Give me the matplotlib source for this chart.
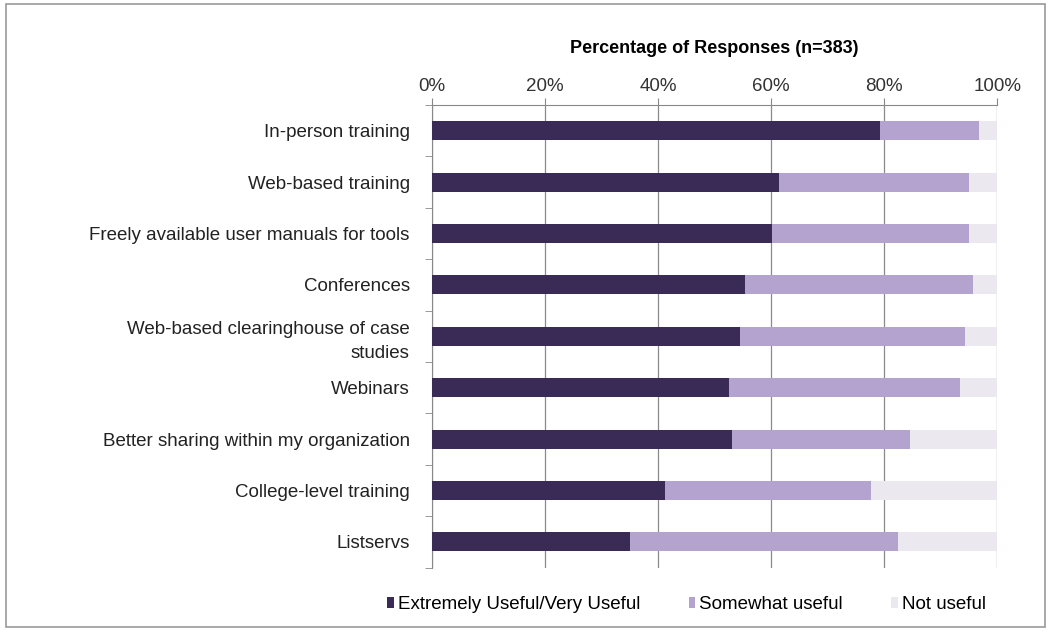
import matplotlib.pyplot as plt
import numpy as np
from matplotlib.patches import Rectangle

plt.rcParams['font.family'] = ['Liberation Sans', 'DejaVu Sans']

# Data
categories = [
    'In-person training',
    'Web-based training',
    'Freely available user manuals for tools',
    'Conferences',
    'Web-based clearinghouse of case\nstudies',
    'Webinars',
    'Better sharing within my organization',
    'College-level training',
    'Listservs',
]
extremely_useful = [79.3, 61.4, 60.1, 55.3, 54.5, 52.6, 53.0, 41.2, 35.0]
somewhat_useful = [17.5, 33.5, 34.8, 40.3, 39.8, 40.7, 31.5, 36.5, 47.5]
not_useful = [100 - a - b for a, b in zip(extremely_useful, somewhat_useful)]

series = [
    ('Extremely Useful/Very Useful', extremely_useful, '#3a2a56'),
    ('Somewhat useful', somewhat_useful, '#b4a2cf'),
    ('Not useful', not_useful, '#ebe8ef'),
]

fig = plt.figure(figsize=(10.51, 6.32), dpi=100)
ax = fig.add_axes([0.411, 0.102, 0.538, 0.732])

y = np.arange(len(categories))
left = np.zeros(len(categories))
for label, vals, color in series:
    ax.barh(y, vals, left=left, height=0.37, color=color, label=label, zorder=3)
    left += np.array(vals)

ax.set_xlim(0, 100)
ax.set_ylim(len(categories) - 0.5, -0.5)
ax.xaxis.tick_top()
ax.xaxis.set_label_position('top')
ax.set_xticks(np.arange(0, 101, 20))
ax.set_xticklabels([f'{v}%' for v in range(0, 101, 20)], fontsize=13.5, color='#333333')
ax.set_xlabel('Percentage of Responses (n=383)', fontsize=13, fontweight='bold', labelpad=18)
ax.tick_params(axis='x', length=5, color='#888888', pad=2)

ax.set_yticks(y)
ax.set_yticklabels(categories, fontsize=13.5, color='#222222', linespacing=1.5)
ax.set_yticks(np.arange(-0.5, len(categories), 1), minor=True)
ax.tick_params(axis='y', which='major', length=0, pad=16)
ax.tick_params(axis='y', which='minor', length=5, color='#888888')

ax.grid(axis='x', color='#8a8a8a', linewidth=0.9, zorder=0)
for side in ['right', 'bottom']:
    ax.spines[side].set_visible(False)
for side in ['top', 'left']:
    ax.spines[side].set_color('#888888')

ax.legend(loc='upper center', bbox_to_anchor=(0.45, -0.025), ncol=3, frameon=False,
          fontsize=13.5, handlelength=0.35, handleheight=0.5, handletextpad=0.2,
          columnspacing=2.6)

fig.patches.append(Rectangle((0.006, 0.008), 0.988, 0.985, transform=fig.transFigure,
                             fill=False, edgecolor='#999999', linewidth=1.2))

fig.savefig('out.png', dpi=100)
